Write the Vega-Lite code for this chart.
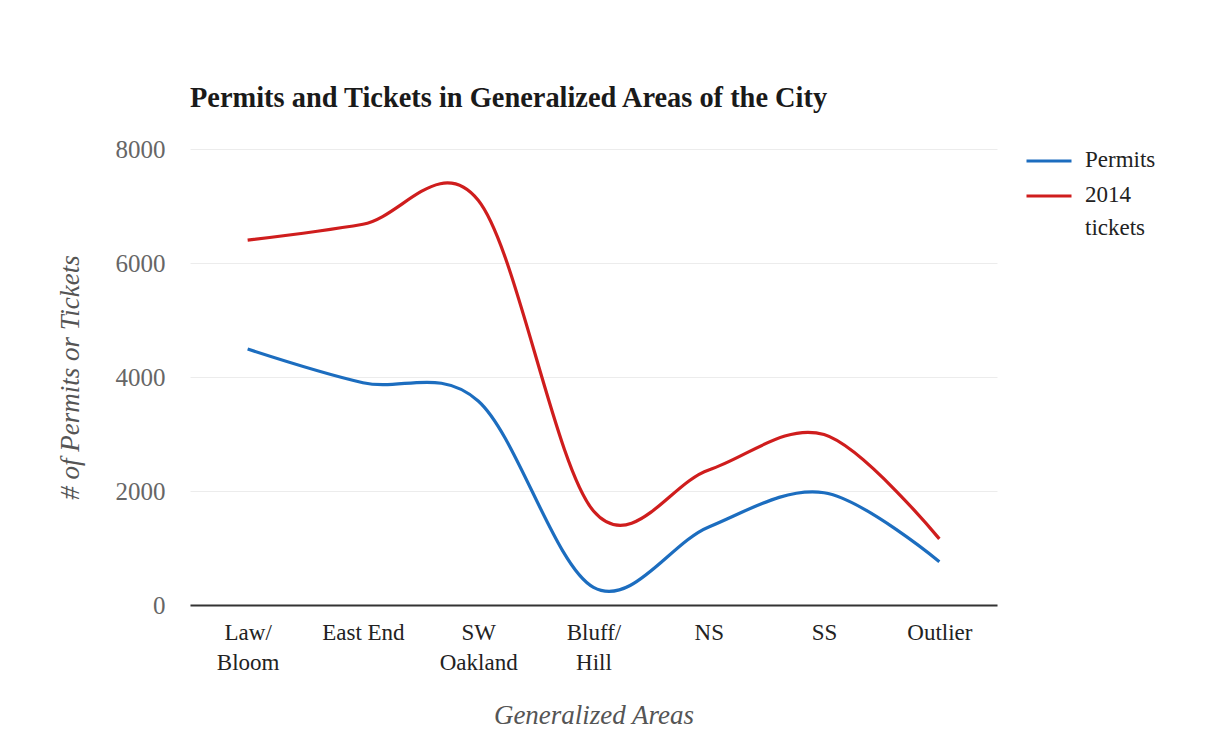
{
  "$schema": "https://vega.github.io/schema/vega-lite/v6.json",
  "autosize": {"type": "none"},
  "padding": {"left": 190, "top": 149, "right": 210, "bottom": 144},
  "width": 807,
  "height": 456,
  "background": "white",
  "title": {
    "text": "Permits and Tickets in Generalized Areas of the City",
    "anchor": "start",
    "frame": "group",
    "font": "Liberation Serif",
    "fontSize": 28.4,
    "fontWeight": "bold",
    "color": "#1a1a1a",
    "offset": 24
  },
  "data": {
    "values": [
      {"area": "Law/Bloom", "series": "Permits", "value": 4490},
      {"area": "East End", "series": "Permits", "value": 3900},
      {"area": "SW Oakland", "series": "Permits", "value": 3580},
      {"area": "Bluff/Hill", "series": "Permits", "value": 310},
      {"area": "NS", "series": "Permits", "value": 1370},
      {"area": "SS", "series": "Permits", "value": 1970},
      {"area": "Outlier", "series": "Permits", "value": 760},
      {"area": "Law/Bloom", "series": "2014 tickets", "value": 6400},
      {"area": "East End", "series": "2014 tickets", "value": 6680},
      {"area": "SW Oakland", "series": "2014 tickets", "value": 7100},
      {"area": "Bluff/Hill", "series": "2014 tickets", "value": 1650},
      {"area": "NS", "series": "2014 tickets", "value": 2370},
      {"area": "SS", "series": "2014 tickets", "value": 2990},
      {"area": "Outlier", "series": "2014 tickets", "value": 1160}
    ]
  },
  "mark": {"type": "line", "interpolate": "cardinal", "strokeWidth": 3.2},
  "encoding": {
    "x": {
      "field": "area",
      "type": "nominal",
      "sort": ["Law/Bloom", "East End", "SW Oakland", "Bluff/Hill", "NS", "SS", "Outlier"],
      "scale": {"type": "point", "padding": 0.5},
      "axis": {
        "title": "Generalized Areas",
        "titleFont": "Liberation Serif",
        "titleFontStyle": "italic",
        "titleFontWeight": "normal",
        "titleFontSize": 27,
        "titleColor": "#555555",
        "titlePadding": 28,
        "labelFont": "Liberation Serif",
        "labelFontSize": 23,
        "labelColor": "#222222",
        "labelAngle": 0,
        "labelPadding": 16,
        "labelLineHeight": 30,
        "labelExpr": "datum.value == 'Law/Bloom' ? ['Law/', 'Bloom'] : datum.value == 'SW Oakland' ? ['SW', 'Oakland'] : datum.value == 'Bluff/Hill' ? ['Bluff/', 'Hill'] : datum.value",
        "ticks": false,
        "grid": false,
        "domainColor": "#333333",
        "domainWidth": 2
      }
    },
    "y": {
      "field": "value",
      "type": "quantitative",
      "scale": {"domain": [0, 8000], "nice": false},
      "axis": {
        "title": "# of Permits or Tickets",
        "titleFont": "Liberation Serif",
        "titleFontStyle": "italic",
        "titleFontWeight": "normal",
        "titleFontSize": 27,
        "titleColor": "#555555",
        "titlePadding": 31,
        "labelFont": "Liberation Serif",
        "labelFontSize": 25,
        "labelColor": "#666666",
        "labelPadding": 25,
        "values": [0, 2000, 4000, 6000, 8000],
        "format": "d",
        "ticks": false,
        "domain": false,
        "grid": true,
        "gridColor": "#ececec",
        "gridWidth": 1
      }
    },
    "color": {
      "field": "series",
      "type": "nominal",
      "sort": ["Permits", "2014 tickets"],
      "scale": {"domain": ["Permits", "2014 tickets"], "range": ["#1c6dbf", "#cf1d1d"]},
      "legend": {
        "title": null,
        "orient": "none",
        "legendX": 835,
        "legendY": -12,
        "symbolType": "stroke",
        "symbolSize": 2025,
        "symbolStrokeWidth": 3,
        "labelFont": "Liberation Serif",
        "labelFontSize": 23,
        "labelColor": "#222222",
        "labelOffset": 12,
        "labelBaseline": "top",
        "rowPadding": -5,
        "labelExpr": "datum.label == '2014 tickets' ? ['2014', 'tickets'] : datum.label",
        "encode": {
          "labels": {"update": {"dy": {"value": -12}, "lineHeight": {"value": 33}}}
        }
      }
    }
  },
  "config": {"view": {"stroke": null}}
}
